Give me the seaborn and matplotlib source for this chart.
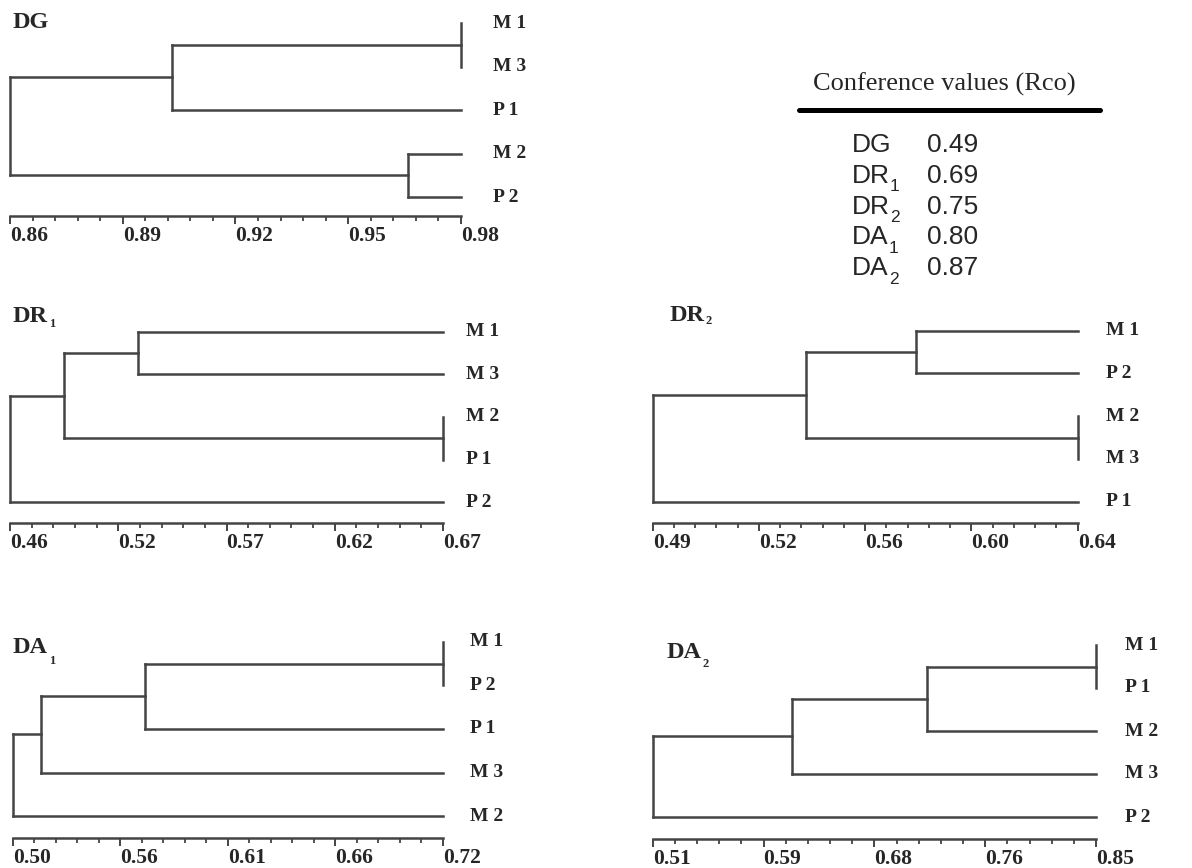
import matplotlib
matplotlib.use("Agg")
import matplotlib.pyplot as plt
import numpy as np
import pandas as pd
import seaborn as sns

# ---- data -------------------------------------------------------------
dg_leaves = ["M 1", "M 3", "P 1", "M 2", "P 2"]
dg_links = [("M 1", "M 3", 0.980), ("c0", "P 1", 0.903), ("M 2", "P 2", 0.966), ("c1", "c2", 0.860)]
dg_range = (0.86, 0.98)
dg_ticks = ["0.86", "0.89", "0.92", "0.95", "0.98"]

dr1_leaves = ["M 1", "M 3", "M 2", "P 1", "P 2"]
dr1_links = [("M 1", "M 3", 0.522), ("M 2", "P 1", 0.670), ("c0", "c1", 0.486), ("c2", "P 2", 0.460)]
dr1_range = (0.46, 0.67)
dr1_ticks = ["0.46", "0.52", "0.57", "0.62", "0.67"]

dr2_leaves = ["M 1", "P 2", "M 2", "M 3", "P 1"]
dr2_links = [("M 1", "P 2", 0.583), ("M 2", "M 3", 0.640), ("c0", "c1", 0.544), ("c2", "P 1", 0.490)]
dr2_range = (0.49, 0.64)
dr2_ticks = ["0.49", "0.52", "0.56", "0.60", "0.64"]

da1_leaves = ["M 1", "P 2", "P 1", "M 3", "M 2"]
da1_links = [("M 1", "P 2", 0.720), ("c0", "P 1", 0.564), ("c1", "M 3", 0.510), ("c2", "M 2", 0.495)]
da1_range = (0.495, 0.72)
da1_ticks = ["0.50", "0.56", "0.61", "0.66", "0.72"]

da2_leaves = ["M 1", "P 1", "M 2", "M 3", "P 2"]
da2_links = [("M 1", "P 1", 0.850), ("c0", "M 2", 0.720), ("c1", "M 3", 0.617), ("c2", "P 2", 0.510)]
da2_range = (0.51, 0.85)
da2_ticks = ["0.51", "0.59", "0.68", "0.76", "0.85"]

rco_names = [("DG", ""), ("DR", "1"), ("DR", "2"), ("DA", "1"), ("DA", "2")]
rco_values = ["0.49", "0.69", "0.75", "0.80", "0.87"]

# ---- layout (pixels, origin top-left) --------------------------------
W, H = 1192, 868
LINE = "#444444"
SERIF = "Liberation Serif"
SANS = "Liberation Sans"

panels = [
    # leaves, links, range, ticks, title, sub, x0, x1, axis_y, leaf0, step,
    # label_dx, title baseline (x, y), subscript baseline y
    (dg_leaves, dg_links, dg_range, dg_ticks, "DG", "", 10, 461, 216, 23, 43.5, 32, (13, 28), 0),
    (dr1_leaves, dr1_links, dr1_range, dr1_ticks, "DR", "1", 10, 443, 523, 331.7, 42.6, 23, (13, 322), 327),
    (dr2_leaves, dr2_links, dr2_range, dr2_ticks, "DR", "2", 652.7, 1077.7, 523, 330.7, 42.75, 28, (670, 321), 324),
    (da1_leaves, da1_links, da1_range, da1_ticks, "DA", "1", 12.7, 442.7, 838, 641.7, 43.6, 27, (13, 653), 664),
    (da2_leaves, da2_links, da2_range, da2_ticks, "DA", "2", 652.7, 1096, 839, 645, 43.0, 29, (667, 658), 667),
]


def fx(x):
    return x / W


def fy(y):
    return 1 - y / H


def dendro_frame(leaves, links, top):
    """Elbow segments of a dendrogram; leaves sit at the right end (top)."""
    pos = {name: (top, i) for i, name in enumerate(leaves)}
    rows = []
    seg = 0
    for k, (a, b, sim) in enumerate(links):
        xa, ya = pos[a]
        xb, yb = pos[b]
        for p, q in [((xa, ya), (sim, ya)), ((xb, yb), (sim, yb)), ((sim, ya), (sim, yb))]:
            rows.append((seg, p[0], p[1]))
            rows.append((seg, q[0], q[1]))
            seg += 1
        pos[f"c{k}"] = (sim, (ya + yb) / 2)
    return pd.DataFrame(rows, columns=["seg", "x", "y"])


def subscript(text_artist, sub, y_px, family, size, weight, dx=0.5):
    fig.add_artist(plt.Annotation(sub, xy=(1, fy(y_px)), xycoords=(text_artist, "figure fraction"),
                                  xytext=(dx, 0), textcoords="offset points",
                                  va="baseline", ha="left", fontfamily=family,
                                  fontsize=size, fontweight=weight))


sns.set_style("white")
plt.rcParams["font.family"] = [SERIF, "DejaVu Sans"]

fig = plt.figure(figsize=(W / 100, H / 100), dpi=100)

for (leaves, links, (lo, hi), ticks, title, sub, x0, x1, axis_y, leaf0,
     step, label_dx, (tx, ty), sub_y) in panels:
    top_pad = 12
    ax = fig.add_axes([fx(x0), fy(axis_y), (x1 - x0) / W, (axis_y - leaf0 + top_pad) / H])
    df = dendro_frame(leaves, links, hi)
    sns.lineplot(data=df, x="x", y="y", units="seg", estimator=None, sort=False,
                 color=LINE, lw=1.8, ax=ax, legend=False)
    for ln in ax.lines:
        ln.set_clip_on(False)
        ln.set_solid_capstyle("projecting")
    ax.set_xlim(lo, hi)
    ax.set_ylim((axis_y - leaf0) / step, -top_pad / step)
    ax.set_xlabel("")
    ax.set_ylabel("")
    ax.set_yticks([])
    for s in ["top", "left", "right"]:
        ax.spines[s].set_visible(False)
    ax.spines["bottom"].set_color(LINE)
    ax.spines["bottom"].set_linewidth(1.8)
    ax.set_xticks(np.linspace(lo, hi, 5))
    ax.set_xticks(np.linspace(lo, hi, 21), minor=True)
    ax.set_xticklabels(ticks, fontfamily=SERIF, fontweight="bold", fontsize=15.5)
    ax.tick_params(axis="x", which="both", bottom=True, top=False)
    ax.tick_params(axis="x", which="major", direction="out", length=5.5, width=1.4,
                   color=LINE, pad=1.5)
    ax.tick_params(axis="x", which="minor", direction="out", length=3.4, width=1.3, color=LINE)
    for lbl in ax.get_xticklabels():
        lbl.set_horizontalalignment("left")
    for i, name in enumerate(leaves):
        ax.annotate(name, xy=(hi, i), xycoords="data", xytext=(label_dx * 0.72, 0),
                    textcoords="offset points", va="center", ha="left",
                    fontfamily=SERIF, fontweight="bold", fontsize=14, annotation_clip=False)
    t = fig.text(fx(tx), fy(ty), title, fontfamily=SERIF, fontweight="bold", fontsize=17.5,
                 va="baseline", ha="left")
    if sub:
        subscript(t, sub, sub_y, SERIF, 9, "bold")

# ---- Rco table ---------------------------------------------------------
fig.text(fx(813), fy(91), "Conference values (Rco)", fontfamily=SERIF, fontsize=19,
         va="baseline", ha="left")
fig.add_artist(plt.Line2D([fx(799), fx(1100)], [fy(109.5), fy(109.5)], color="black", lw=3.6))
for i, ((name, sub), val) in enumerate(zip(rco_names, rco_values)):
    yb = 152 + 30.75 * i
    t = fig.text(fx(852), fy(yb), name, fontfamily=SANS, fontsize=19, va="baseline", ha="left")
    if sub:
        subscript(t, sub, yb + 8.5, SANS, 12.5, "normal", dx=0)
    fig.text(fx(927), fy(yb), val, fontfamily=SANS, fontsize=19, va="baseline", ha="left")

fig.savefig("out.png", dpi=100)
